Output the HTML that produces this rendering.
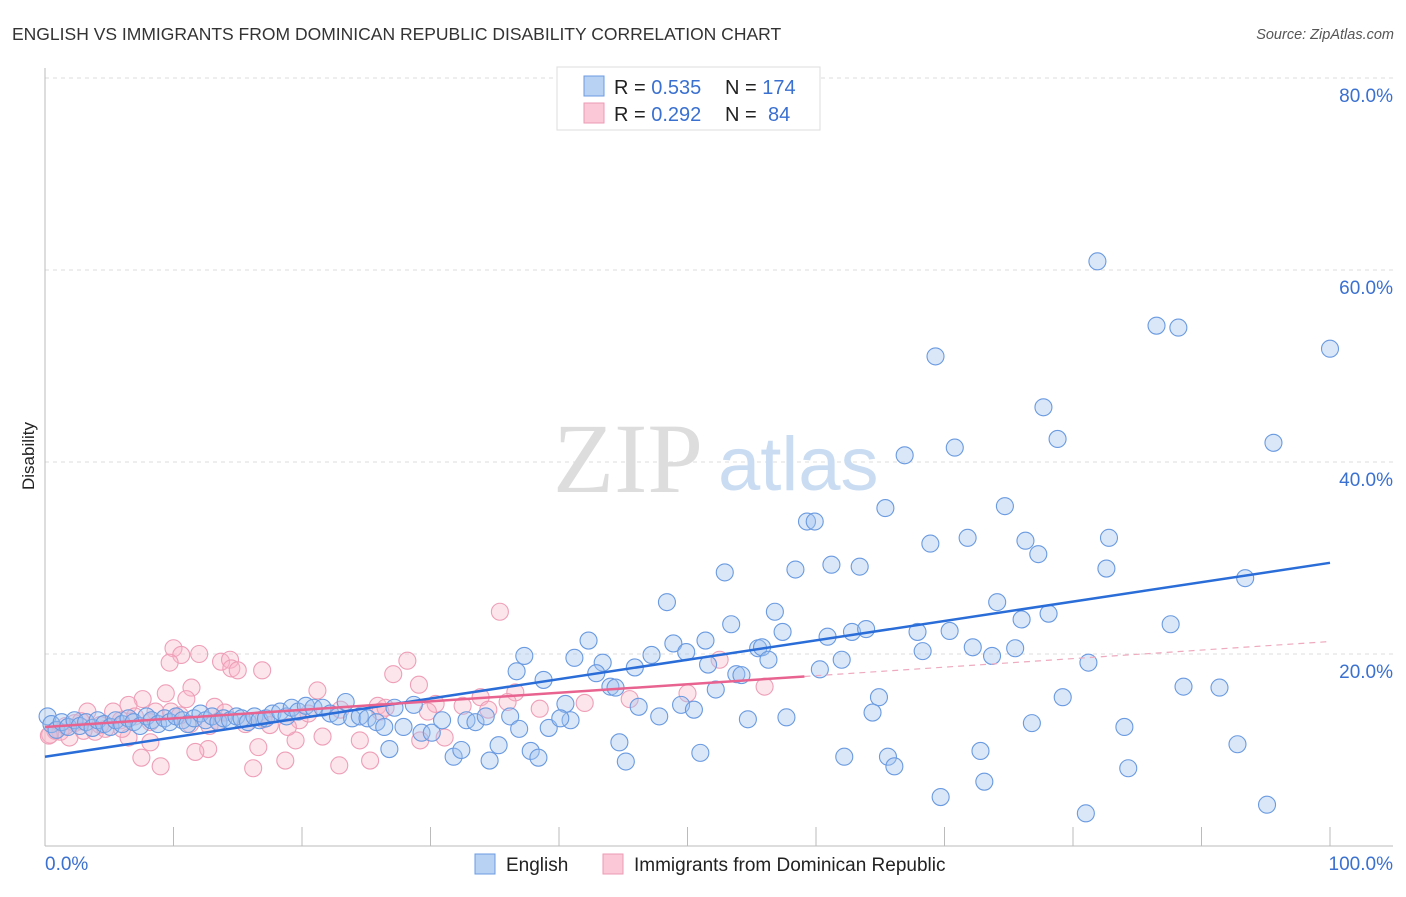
<!DOCTYPE html>
<html><head><meta charset="utf-8"><style>
body{margin:0;background:#fff;font-family:"Liberation Sans",sans-serif;}
</style></head><body>
<svg width="1406" height="892" xmlns="http://www.w3.org/2000/svg">
<text x="12" y="40" font-size="17.5" fill="#333">ENGLISH VS IMMIGRANTS FROM DOMINICAN REPUBLIC DISABILITY CORRELATION CHART</text>
<text x="1394" y="39" font-size="14.5" fill="#555" font-style="italic" text-anchor="end">Source: ZipAtlas.com</text>
<g id="grid"></g>
<text x="553" y="492" font-size="100" fill="#ddd" font-family="Liberation Serif,serif">ZIP</text>
<text x="718" y="490" font-size="76" fill="#c9dcf2">atlas</text>
<g id="pts"></g>
<g id="lines"></g>
<text x="34" y="456" font-size="17" fill="#222" transform="rotate(-90 34 456)" text-anchor="middle">Disability</text>
<g>
<rect x="557" y="67" width="263" height="63" fill="#fff" stroke="#ddd"/>
<rect x="584" y="76" width="20" height="20" fill="#b8d2f4" stroke="#6b9be0"/>
<rect x="584" y="103" width="20" height="20" fill="#fac8d6" stroke="#ec9ab4"/>
<text x="614" y="94" font-size="20" fill="#222">R = <tspan fill="#3a70d0">0.535</tspan></text>
<text x="725" y="94" font-size="20" fill="#222">N = <tspan fill="#3a70d0">174</tspan></text>
<text x="614" y="121" font-size="20" fill="#222">R = <tspan fill="#3a70d0">0.292</tspan></text>
<text x="725" y="121" font-size="20" fill="#222">N = <tspan fill="#3a70d0" x="768">84</tspan></text>
</g>
<g>
<rect x="475" y="854" width="20" height="20" fill="#b8d2f4" stroke="#6b9be0"/>
<text x="506" y="871" font-size="19" fill="#222">English</text>
<rect x="603" y="854" width="20" height="20" fill="#fac8d6" stroke="#ec9ab4"/>
<text x="634" y="871" font-size="19" fill="#222">Immigrants from Dominican Republic</text>
</g>
</svg>
<script>
const blueX=[81.9,86.5,88.2,69.3,100,77.7,78.8,95.6,66.9,70.8,65.4,74.7,59.3,59.9,68.9,71.8,76.3,77.3,82.8,52.9,58.4,61.2,63.4,82.6,93.4,48.4,74.1,56.8,53.4,76.0,78.1,87.6,42.3,48.9,51.4,57.4,60.9,62.8,63.9,67.9,70.4,49.9,55.5,55.8,68.3,72.2,75.5,37.3,41.2,43.4,45.9,47.2,51.6,56.3,62.0,73.7,81.2,36.7,42.9,53.8,54.2,60.3,38.8,44.0,44.4,52.2,88.6,91.4,64.9,79.2,40.5,46.2,49.5,50.5,47.8,64.4,54.7,57.7,76.8,40.9,84.0,44.7,51.0,62.2,65.6,72.8,92.8,45.2,66.1,84.3,69.7,73.1,81.0,95.1,
0.2,0.5,0.9,1.3,1.8,2.3,2.7,3.2,3.7,4.1,4.6,5.1,5.5,6.0,6.5,6.9,7.4,7.9,8.3,8.8,9.3,9.7,10.2,10.7,11.1,11.6,12.1,12.5,13.0,13.5,13.9,14.4,14.9,15.3,15.8,16.3,16.7,17.2,17.7,18.3,18.8,19.2,19.7,20.3,20.9,21.6,22.2,22.8,23.4,23.9,24.5,25.1,25.8,26.4,27.2,27.9,28.7,29.3,30.1,30.9,32.8,33.5,34.3,36.2,36.9,39.2,40.1,26.8,31.8,32.4,34.6,35.3,37.8,38.4];
const blueY=[60.9,54.2,54.0,51.0,51.8,45.7,42.4,42.0,40.7,41.5,35.2,35.4,33.8,33.8,31.5,32.1,31.8,30.4,32.1,28.5,28.8,29.3,29.1,28.9,27.9,25.4,25.4,24.4,23.1,23.6,24.2,23.1,21.4,21.1,21.4,22.3,21.8,22.3,22.6,22.3,22.4,20.2,20.6,20.7,20.3,20.7,20.6,19.8,19.6,19.1,18.6,19.9,18.9,19.4,19.4,19.8,19.1,18.2,18.0,17.9,17.8,18.4,17.3,16.6,16.5,16.3,16.6,16.5,15.5,15.5,14.8,14.5,14.7,14.2,13.5,13.9,13.2,13.4,12.8,13.1,12.4,10.8,9.7,9.3,9.3,9.9,10.6,8.8,8.3,8.1,5.1,6.7,3.4,4.3,
13.5,12.7,12.1,12.9,12.4,13.1,12.5,12.9,12.3,13.1,12.7,12.4,13.1,12.7,13.3,12.9,12.5,13.5,13.1,12.7,13.3,12.9,13.5,13.1,12.7,13.3,13.8,13.1,13.5,12.9,13.3,13.1,13.5,13.3,12.9,13.5,13.1,13.3,13.8,14.0,13.5,14.4,14.0,14.6,14.4,14.4,13.8,13.5,15.0,13.3,13.5,13.3,12.9,12.4,14.4,12.4,14.7,11.8,11.8,13.1,13.1,12.9,13.5,13.5,12.2,12.3,13.3,10.1,9.3,10.0,8.9,10.5,9.9,9.2];
const pinkX=[35.4,10.0,10.6,9.7,12.0,13.7,14.4,14.5,15.0,16.9,28.2,29.1,27.1,11.4,9.4,21.2,11.0,7.6,6.5,13.2,33.9,30.4,25.9,3.3,5.3,8.6,9.8,7.0,8.2,5.9,4.3,1.2,0.4,1.9,3.9,6.5,19.8,17.5,15.6,12.8,11.3,36.6,34.5,26.1,24.5,21.6,19.5,18.9,16.6,12.7,11.7,8.2,7.5,9.0,16.2,18.7,22.9,25.3,52.5,29.2,31.1,4.7,2.3,0.8,1.6,2.8,10.5,14.0,17.0,20.5,23.0,26.5,29.8,32.5,36.0,38.5,42.0,45.5,50.0,56.0,3.0,6.0,13.5,0.3];
const pinkY=[24.4,20.6,19.9,19.1,20.0,19.2,19.4,18.5,18.3,18.3,19.3,16.8,17.9,16.5,15.9,16.2,15.3,15.3,14.7,14.5,15.5,14.8,14.6,14.0,14.0,14.0,14.0,13.5,12.9,13.1,12.6,11.9,11.6,11.3,11.9,11.3,13.1,12.6,12.7,12.5,12.7,16.0,14.2,14.0,11.0,11.4,11.0,12.4,10.3,10.1,9.8,10.8,9.2,8.3,8.1,8.9,8.4,8.9,19.4,11.0,11.3,12.2,12.8,12.0,12.5,13.0,13.6,13.9,13.2,13.8,14.2,14.4,14.0,14.6,15.0,14.3,14.9,15.3,15.9,16.6,12.0,12.2,13.0,11.5];
const blueLine=[9.3,29.5];
const pinkLine=[12.4,21.3];
const pinkSolidEnd=59.1;
const yTicks=[20,40,60,80];
const yTickLabels=["20.0%","40.0%","60.0%","80.0%"];
const xTickLabels=["0.0%","100.0%"];
const NS="http://www.w3.org/2000/svg";
const X=v=>45+v*12.85, Y=v=>846-v*9.6;
function mk(tag,attrs,parent){const e=document.createElementNS(NS,tag);for(const k in attrs)e.setAttribute(k,attrs[k]);parent.appendChild(e);return e;}
const grid=document.getElementById('grid');
yTicks.forEach((t,i)=>{
 const l=mk('line',{x1:45,x2:1393,y1:Y(t),y2:Y(t),stroke:'#ddd','stroke-dasharray':'4,4'},grid);
 
 
 const tx=mk('text',{x:1393,y:Y(t)+24,'font-size':19,fill:'#3a70d0','text-anchor':'end'},grid);
 tx.textContent=yTickLabels[i];
 
 
});
const ax=mk('line',{x1:45,x2:45,y1:68,y2:846,stroke:'#bbb'},grid);


const bx=mk('line',{x1:45,x2:1393,y1:846,y2:846,stroke:'#bbb'},grid);


for(let i=1;i<=10;i++){const t=mk('line',{x1:X(i*10),x2:X(i*10),y1:827,y2:846,stroke:'#bbb'},grid);
 
 }
const x0=mk('text',{x:45,y:870,'font-size':19,fill:'#3a70d0'},grid);x0.textContent=xTickLabels[0];


const x1=mk('text',{x:1393,y:870,'font-size':19,fill:'#3a70d0','text-anchor':'end'},grid);x1.textContent=xTickLabels[1];


const pts=document.getElementById('pts');
pinkX.forEach((v,i)=>{const c=mk('circle',{cx:X(v),cy:Y(pinkY[i]),r:8.5,fill:'rgba(248,180,200,0.35)',stroke:'#ee9fb8','stroke-width':1.1},pts);
 
 });
blueX.forEach((v,i)=>{const c=mk('circle',{cx:X(v),cy:Y(blueY[i]),r:8.5,fill:'rgba(160,196,240,0.4)',stroke:'#6a9ae0','stroke-width':1.1},pts);
 
 });
const lines=document.getElementById('lines');
const bl=mk('line',{x1:X(0),y1:Y(blueLine[0]),x2:X(100),y2:Y(blueLine[1]),stroke:'#2a6dd8','stroke-width':2.5},lines);


const pe=pinkLine[0]+(pinkLine[1]-pinkLine[0])*pinkSolidEnd/100;
const pl=mk('line',{x1:X(0),y1:Y(pinkLine[0]),x2:X(pinkSolidEnd),y2:Y(pe),stroke:'#e8638f','stroke-width':2.5},lines);


const pd=mk('line',{x1:X(pinkSolidEnd),y1:Y(pe),x2:X(100),y2:Y(pinkLine[1]),stroke:'#eeaabf','stroke-width':1.2,'stroke-dasharray':'6,5'},lines);


</script>
</body></html>
